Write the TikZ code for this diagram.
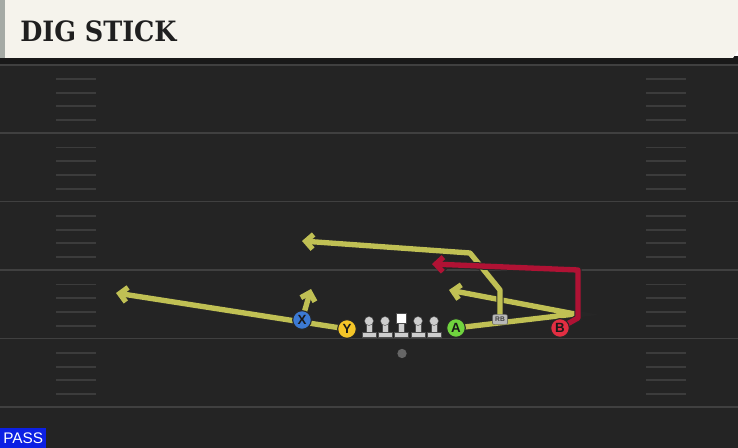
\documentclass[tikz,border=0pt]{standalone}
\usepackage{fontspec}
\setmainfont{Liberation Sans}
\newfontfamily\titlefont{DejaVu Serif}
\usetikzlibrary{arrows.meta}

\definecolor{fieldgray}{RGB}{36,36,36}
\definecolor{linegray}{RGB}{64,64,64}
\definecolor{hashgray}{RGB}{60,60,60}
\definecolor{headercream}{RGB}{245,243,236}
\definecolor{headerstrip}{RGB}{165,170,165}
\definecolor{passblue}{RGB}{12,32,228}
\definecolor{routeyel}{RGB}{192,192,84}
\definecolor{routered}{RGB}{176,18,52}
\definecolor{xblue}{RGB}{60,122,212}
\definecolor{yyellow}{RGB}{245,198,40}
\definecolor{agreen}{RGB}{112,212,62}
\definecolor{bred}{RGB}{226,46,66}
\definecolor{olgray}{RGB}{205,205,205}

\pgfdeclarelayer{field}
\pgfdeclarelayer{routes}
\pgfsetlayers{field,routes,main}

\tikzset{
  player/.style={circle, draw=black!85, line width=0.8pt, inner sep=0pt,
    minimum size=14pt, font=\bfseries\fontsize{10}{10}\selectfont, text=black!90},
  route/.style={line width=4pt, draw=routeyel, line join=round,
    -{Straight Barb[length=5.5pt,width=11pt]},
    preaction={draw=black!85, line width=5.5pt}},
  redroute/.style={route, draw=routered},
  yardline/.style={draw=linegray, line width=1.4pt},
  hashmark/.style={draw=hashgray, line width=1.4pt},
  lineman/.style={fill=olgray, draw=black!70, line width=0.3pt}
}

\begin{document}
\begin{tikzpicture}[x=0.75pt,y=0.75pt,yscale=-1,xscale=1]
\useasboundingbox (0,0) rectangle (738,448);

\begin{pgfonlayer}{field}
% field and yard lines
\fill[fieldgray] (0,58) rectangle (738,448);
\foreach \yl in {65,133,201.5,270,338.5,407}
  \draw[yardline] (0,\yl) -- (738,\yl);
\foreach \base in {64.5,133,201.5,270,338.5}
  \foreach \i in {0,...,3} {
    \draw[hashmark] (56,{\base+14.5+13.7*\i}) -- (96,{\base+14.5+13.7*\i});
    \draw[hashmark] (646,{\base+14.5+13.7*\i}) -- (686,{\base+14.5+13.7*\i});
  }
% header
\fill[black!90] (0,56) rectangle (738,64);
\fill[headercream] (0,0) -- (738,0) -- (738,50) -- (733,58) -- (0,58) -- cycle;
\fill[headerstrip] (0,0) rectangle (5,58);
\end{pgfonlayer}

\node[anchor=base west, inner sep=0pt, text=black!88,
  font=\titlefont\bfseries\fontsize{21}{21}\selectfont] (title) at (20,42) {\scalebox{0.91}[1]{DIG STICK}};
\node[anchor=south west, fill=passblue, text=white, inner sep=0pt,
  minimum width=34.5pt, minimum height=15pt,
  font=\fontsize{11.5}{11.5}\selectfont] (pass) at (0,448) {PASS};

% line
\foreach \lx in {369,385,418,434} {
  \fill[lineman] (\lx-3,322) rectangle (\lx+3,333);
  \fill[lineman] (\lx-7,332) rectangle (\lx+7,337);
  \fill[lineman] (\lx,321) circle (4.5);
}
\fill[lineman] (398.5,322) rectangle (404.5,333);
\fill[lineman] (394.5,332) rectangle (408.5,337);
\fill[white, draw=black!70, line width=0.3pt] (396.5,313) rectangle (406.5,323);

% players
\node[player, fill=xblue] (X) at (302,320) {X};
\node[player, fill=yyellow] (Y) at (347,329) {Y};
\node[player, fill=agreen] (A) at (456,328) {A};
\node[player, fill=bred] (B) at (560,328) {B};
\node[fill=olgray!90!black, draw=black!70, line width=0.3pt, rounded corners=1.5pt,
  minimum width=11.5pt, minimum height=7.5pt, inner sep=0pt,
  font=\bfseries\fontsize{5}{5}\selectfont, text=black!75] (RB) at (500,319.5) {RB};
\node[circle, fill=black!50!olgray, inner sep=0pt, minimum size=7pt] (QB) at (402,353.5) {};

% route points
\coordinate (yEnd) at (116,293);
\coordinate (xEnd) at (311,289);
\coordinate (aTurn) at (575,314);
\coordinate (aEnd) at (449,290);
\coordinate (rbUp) at (500,290);
\coordinate (rbBreak) at (470,253);
\coordinate (rbEnd) at (302,241);
\coordinate (bOut) at (578,318);
\coordinate (bUp) at (578,270);
\coordinate (bEnd) at (432,264);

\begin{pgfonlayer}{routes}
\draw[route] (Y.center) -- (yEnd);
\draw[route] (X.center) -- (xEnd);
\draw[route] (A.center) -- (aTurn) -- (aEnd);
\draw[route] (RB.center) -- (rbUp) -- (rbBreak) -- (rbEnd);
\draw[redroute] (B.center) -- (bOut) -- (bUp) -- (bEnd);
\end{pgfonlayer}

\end{tikzpicture}
\end{document}
